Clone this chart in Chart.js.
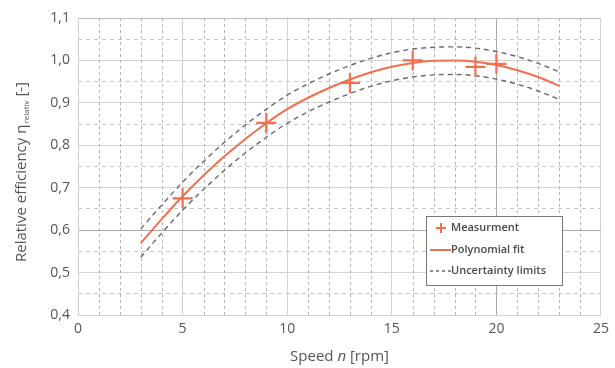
<!DOCTYPE html>
<html>
<head>
<meta charset="utf-8">
<script src="https://cdn.jsdelivr.net/npm/chart.js@4.4.1/dist/chart.umd.min.js"></script>
<style>
  html, body { margin: 0; padding: 0; background: #fff; }
</style>
</head>
<body>
<canvas id="effChart" width="615" height="368"></canvas>
<script>
// polynomial fit
const speedFit = [3, 4, 5, 6, 7, 8, 9, 10, 11, 12, 13, 14, 15, 16, 17, 18, 19, 20, 21, 22, 23];
const fitValues = [0.569, 0.626, 0.680, 0.729, 0.774, 0.815, 0.852, 0.885, 0.912, 0.935, 0.955, 0.972, 0.985, 0.994, 0.999, 1.000, 0.997, 0.989, 0.977, 0.961, 0.940];
const upperLimit = [0.603, 0.659, 0.713, 0.762, 0.807, 0.848, 0.885, 0.918, 0.945, 0.968, 0.988, 1.005, 1.018, 1.027, 1.031, 1.032, 1.029, 1.021, 1.009, 0.993, 0.973];
const lowerLimit = [0.536, 0.593, 0.647, 0.696, 0.741, 0.782, 0.819, 0.852, 0.879, 0.902, 0.922, 0.939, 0.952, 0.961, 0.966, 0.967, 0.964, 0.956, 0.944, 0.928, 0.908];

// measurements
const speedMeas = [5, 9, 13, 16, 19, 20];
const measValues = [0.675, 0.853, 0.947, 1.0, 0.985, 0.992];

// tick labels
const xTicks = [0, 5, 10, 15, 20, 25];
const yTicks = [0.4, 0.5, 0.6, 0.7, 0.8, 0.9, 1.0, 1.1];

const orange = "#ef6f4f";
const fontName = "'Open Sans', 'DejaVu Sans', sans-serif";

function toPoints(xs, ys) {
    return xs.map((x, i) => ({ x: x, y: ys[i] }));
}

// dashed minor grid every 1 rpm (vertical)
const minorGridPlugin = {
    id: "minorGrid",
    beforeDatasetsDraw(chart) {
        const ctx = chart.ctx;
        const area = chart.chartArea;
        const xs = chart.scales.x;
        ctx.save();
        ctx.strokeStyle = "#b4b4b4";
        ctx.lineWidth = 1;
        ctx.setLineDash([3, 3]);
        ctx.beginPath();
        for (let v = 1; v < 25; v++) {
            if (v % 5 === 0) continue;
            const px = Math.round(xs.getPixelForValue(v)) + 0.5;
            ctx.moveTo(px, area.top);
            ctx.lineTo(px, area.bottom);
        }
        ctx.stroke();
        ctx.restore();
    }
};

// titles with subscript / italic and the legend box inside the plot
const extrasPlugin = {
    id: "extras",
    afterDraw(chart) {
        const ctx = chart.ctx;
        const area = chart.chartArea;
        ctx.save();
        ctx.fillStyle = "#555";
        ctx.textBaseline = "middle";

        // x title: Speed n [rpm]
        const p1 = "Speed ", p2 = "n", p3 = " [rpm]";
        ctx.font = "15px " + fontName;
        const w1 = ctx.measureText(p1).width;
        const w3 = ctx.measureText(p3).width;
        ctx.font = "italic 15px " + fontName;
        const w2 = ctx.measureText(p2).width;
        let xs = (area.left + area.right) / 2 - (w1 + w2 + w3) / 2;
        const ty = 357;
        ctx.textAlign = "left";
        ctx.font = "15px " + fontName;
        ctx.fillText(p1, xs, ty);
        ctx.font = "italic 15px " + fontName;
        ctx.fillText(p2, xs + w1, ty);
        ctx.font = "15px " + fontName;
        ctx.fillText(p3, xs + w1 + w2, ty);

        // y title: Relative efficiency η_relativ [-]
        const q1 = "Relative efficiency \u03B7", q2 = "relativ", q3 = " [-]";
        ctx.font = "15px " + fontName;
        const v1 = ctx.measureText(q1).width;
        const v3 = ctx.measureText(q3).width;
        ctx.font = "8px " + fontName;
        const v2 = ctx.measureText(q2).width;
        ctx.translate(22, (area.top + area.bottom) / 2 + 6);
        ctx.rotate(-Math.PI / 2);
        let ys = -(v1 + v2 + v3) / 2;
        ctx.font = "15px " + fontName;
        ctx.fillText(q1, ys, 0);
        ctx.font = "8px " + fontName;
        ctx.fillText(q2, ys + v1 + 1, 5);
        ctx.font = "15px " + fontName;
        ctx.fillText(q3, ys + v1 + v2 + 1, 0);
        ctx.restore();

        // legend
        ctx.save();
        const bx = 426.5, by = 216.5, bw = 136, bh = 69;
        ctx.fillStyle = "#fff";
        ctx.fillRect(bx, by, bw, bh);
        ctx.strokeStyle = "#777";
        ctx.lineWidth = 1;
        ctx.strokeRect(bx, by, bw, bh);

        const rows = [228, 250, 271];
        ctx.strokeStyle = orange;
        ctx.lineWidth = 2;
        ctx.beginPath();
        ctx.moveTo(436, rows[0]); ctx.lineTo(446, rows[0]);
        ctx.moveTo(441, rows[0] - 5); ctx.lineTo(441, rows[0] + 5);
        ctx.stroke();
        ctx.lineWidth = 2;
        ctx.beginPath();
        ctx.moveTo(430, rows[1]); ctx.lineTo(451, rows[1]);
        ctx.stroke();
        ctx.strokeStyle = "#666";
        ctx.lineWidth = 1.3;
        ctx.setLineDash([3, 3]);
        ctx.beginPath();
        ctx.moveTo(430, rows[2]); ctx.lineTo(452, rows[2]);
        ctx.stroke();
        ctx.setLineDash([]);

        ctx.fillStyle = "#4a4a4a";
        ctx.font = "600 11px " + fontName;
        ctx.textAlign = "left";
        ctx.textBaseline = "middle";
        ctx.fillText("Measurment", 451, rows[0]);
        ctx.fillText("Polynomial fit", 451, rows[1]);
        ctx.fillText("Uncertainty limits", 451, rows[2]);
        ctx.restore();
    }
};

const ctxEff = document.getElementById("effChart").getContext("2d");
new Chart(ctxEff, {
    type: "line",
    data: {
        datasets: [
            {
                label: "Measurment",
                type: "scatter",
                data: toPoints(speedMeas, measValues),
                xAxisID: "x",
                yAxisID: "y",
                pointStyle: "cross",
                pointRadius: 10,
                pointBorderWidth: 2.2,
                borderColor: orange,
                backgroundColor: orange,
                order: 0,
            },
            {
                label: "Polynomial fit",
                data: toPoints(speedFit, fitValues),
                xAxisID: "x",
                yAxisID: "y",
                borderColor: orange,
                borderWidth: 2,
                pointRadius: 0,
                cubicInterpolationMode: "monotone",
                order: 1,
            },
            {
                label: "Uncertainty limits",
                data: toPoints(speedFit, upperLimit),
                xAxisID: "x",
                yAxisID: "y",
                borderColor: "#6a6a6a",
                borderWidth: 1.4,
                borderDash: [5, 4],
                pointRadius: 0,
                cubicInterpolationMode: "monotone",
                order: 2,
            },
            {
                label: "Uncertainty limits (lower)",
                data: toPoints(speedFit, lowerLimit),
                xAxisID: "x",
                yAxisID: "y",
                borderColor: "#6a6a6a",
                borderWidth: 1.4,
                borderDash: [5, 4],
                pointRadius: 0,
                cubicInterpolationMode: "monotone",
                order: 2,
            },
        ],
    },
    options: {
        responsive: false,
        animation: false,
        devicePixelRatio: 1,
        layout: { padding: { top: 18, right: 8, left: 0, bottom: 0 } },
        plugins: {
            legend: { display: false },
            tooltip: { enabled: false },
        },
        scales: {
            x: {
                type: "linear",
                position: "bottom",
                min: 0,
                max: 25,
                afterBuildTicks: (scale) => {
                    scale.ticks = xTicks.map((v) => ({ value: v }));
                },
                afterFit: (scale) => { scale.height = 53; },
                ticks: {
                    color: "#555",
                    font: { family: fontName, size: 14 },
                    padding: 6,
                    callback: (value) => String(value),
                },
                grid: {
                    color: (c) => (c.tick && c.tick.value === 20 ? "#a9a9a9" : "#d2d2d2"),
                    lineWidth: 1,
                    drawTicks: false,
                },
                border: { color: "#d2d2d2" },
            },
            y: {
                type: "linear",
                position: "left",
                min: 0.4,
                max: 1.1,
                afterBuildTicks: (scale) => {
                    scale.ticks = yTicks.map((v) => ({ value: v }));
                },
                afterFit: (scale) => { scale.width = 78; },
                ticks: {
                    color: "#555",
                    font: { family: fontName, size: 14 },
                    padding: 8,
                    callback: (value) => value.toFixed(1).replace(".", ","),
                },
                grid: {
                    color: (c) => {
                        if (!c.tick) return "#d2d2d2";
                        if (c.tick.value === 0.4) return "#9a9a9a";
                        if (c.tick.value === 0.6) return "#a9a9a9";
                        if (c.tick.value === 1.1) return "#bdbdbd";
                        return "#d2d2d2";
                    },
                    lineWidth: 1,
                    drawTicks: false,
                },
                border: { color: "#d2d2d2" },
            },
            yMinor: {
                type: "linear",
                position: "left",
                min: 0.4,
                max: 1.1,
                afterBuildTicks: (scale) => {
                    const t = [];
                    for (let v = 0.45; v < 1.1; v += 0.1) t.push({ value: Math.round(v * 100) / 100 });
                    scale.ticks = t;
                },
                afterFit: (scale) => { scale.width = 0; },
                ticks: { display: false },
                grid: { color: "#c6c6c6", lineWidth: 1, drawTicks: false },
                border: { display: false, dash: [4, 4] },
            },
        },
    },
    plugins: [minorGridPlugin, extrasPlugin],
});
</script>
</body>
</html>
